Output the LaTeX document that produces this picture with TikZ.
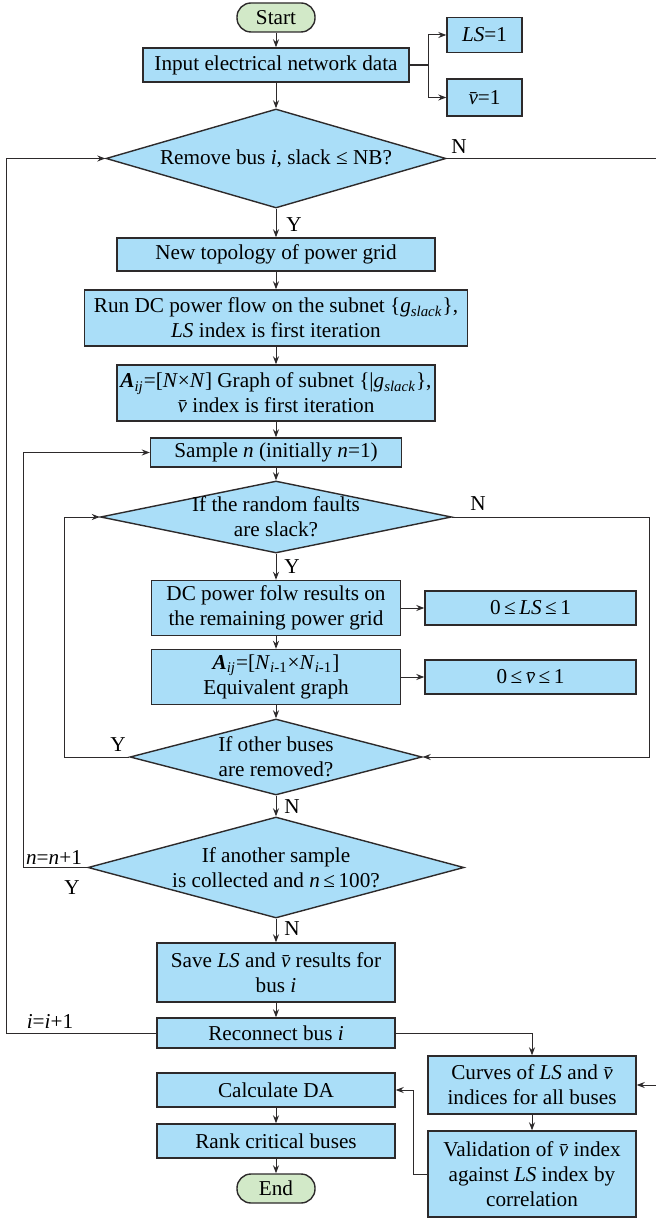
\documentclass[tikz,border=0pt]{standalone}
\usepackage{fontspec}
\setmainfont{Liberation Serif}
\usepackage{tikz}
\usetikzlibrary{arrows.meta, calc, shapes, positioning}

\definecolor{boxblue}{RGB}{170,222,248}
\definecolor{termgreen}{RGB}{210,233,200}
\definecolor{linegray}{RGB}{45,42,43}

\newcommand{\sbs}[1]{\textsubscript{\textit{#1}}}
\newcommand{\vbar}{\textit{\rlap{\=v}\phantom{v}}}

\tikzset{
	box/.style={draw=linegray, fill=boxblue, line width=0.7pt, inner sep=0pt, align=center},
	term/.style={box, fill=termgreen, rounded corners=7pt},
	dec/.style={box, diamond, inner ysep=-3pt},
	dims/.style 2 args={minimum width=#1*0.5pt, minimum height=#2*0.5pt},
	flow/.style={->, draw=linegray, line width=0.5pt},
}

\begin{document}
\begin{tikzpicture}[x=0.5pt, y=-0.5pt, >={Stealth[length=4pt, width=3pt]}, font=\fontsize{10.6}{12.5}\selectfont]
		\useasboundingbox (0,0) rectangle (655,1218);
		
		% Loop columns
		\coordinate (fork) at (428,65);
		\coordinate (redge) at (662,0);
		\coordinate (rloop) at (649,0);
		\coordinate (lloopI) at (6,0);
		\coordinate (lloopN) at (23,0);
		\coordinate (lloopB) at (64,0);
		\coordinate (back) at (413,0);
		
		% Main column
		\node[term, dims={78}{29}] (start) at (276,17.5) {Start};
		\node[box, dims={266}{34}] (input) at (276,65) {Input electrical network data};
		\node[box, dims={75}{35}] (ls1) at (484.5,35) {\textit{LS}=1};
		\node[box, dims={75}{37}] (v1) at (484.5,97.5) {\vbar=1};
		\node[dec, dims={340}{99}, aspect=3.43] (dec1) at (276,158.5) {Remove bus \textit{i}, slack ≤ NB?};
		\node[box, dims={318}{33}] (topo) at (276,254.5) {New topology of power grid};
		\node[box, dims={383}{56}] (rundc) at (276,318) {Run DC power flow on the subnet \{\textit{g}\sbs{slack}\},\\\textit{LS} index is first iteration};
		\node[box, dims={318}{56}] (aij) at (276,393) {\textbf{\textit{A}}\sbs{ij}=[\textit{N}×\textit{N}] Graph of subnet \{|\textit{g}\sbs{slack}\},\\\vbar{} index is first iteration};
		\node[box, dims={251}{29}] (sample) at (276,452.5) {Sample \textit{n} (initially \textit{n}=1)};
		\node[dec, dims={351}{72}, aspect=4.875] (dec2) at (276,517) {If the random faults\\are slack?};
		\node[box, dims={249}{55}] (dcres) at (276,608) {DC power folw results on\\the remaining power grid};
		\node[box, dims={211}{34}] (lsrng) at (530.5,608) {0\,≤\,\textit{LS}\,≤\,1};
		\node[box, dims={249}{55}] (aeq) at (276,677) {\textbf{\textit{A}}\sbs{ij}=[\textit{N}\textsubscript{\textit{i}-1}×\textit{N}\textsubscript{\textit{i}-1}]\\Equivalent graph};
		\node[box, dims={211}{34}] (vrng) at (530.5,677) {0\,≤\,\vbar\,≤\,1};
		\node[dec, dims={292}{76}, aspect=3.84] (dec3) at (276,757) {If other buses\\are removed?};
		\node[dec, dims={376}{101}, aspect=3.72] (dec4) at (276,867.5) {If another sample\\is collected and \textit{n}\,≤\,100?};
		\node[box, dims={238}{59}] (save) at (276,972.5) {Save \textit{LS} and \vbar{} results for\\bus \textit{i}};
		\node[box, dims={238}{30}] (recon) at (276,1033) {Reconnect bus \textit{i}};
		\node[box, dims={238}{34}] (calc) at (276,1090) {Calculate DA};
		\node[box, dims={238}{34}] (rank) at (276,1141) {Rank critical buses};
		\node[term, dims={78}{29}] (endn) at (276,1188.5) {End};
		
		% Right column
		\node[box, dims={208}{58}] (curves) at (532,1085) {Curves of \textit{LS} and \vbar\\indices for all buses};
		\node[box, dims={208}{86}] (valid) at (532,1174) {Validation of \vbar{} index\\against \textit{LS} index by\\correlation};
		
		% Branch labels
		\node (lN1) at (459,147) {N};
		\node (lY1) at (294,225) {Y};
		\node (lN2) at (478,504) {N};
		\node (lY2) at (292,567) {Y};
		\node (lY3) at (118,745) {Y};
		\node (lN3) at (292,807) {N};
		\node (lnn) at (54,857) {\textit{n}=\textit{n}+1};
		\node (lY4) at (72,888) {Y};
		\node (lN4) at (292,929) {N};
		\node (lii) at (50,1021) {\textit{i}=\textit{i}+1};
		
		% Straight flow
		\draw[flow] (start) -- (input);
		\draw[flow] (input) -- (dec1);
		\draw[flow] (dec1) -- (topo);
		\draw[flow] (topo) -- (rundc);
		\draw[flow] (rundc) -- (aij);
		\draw[flow] (aij) -- (sample);
		\draw[flow] (sample) -- (dec2);
		\draw[flow] (dec2) -- (dcres);
		\draw[flow] (dcres) -- (aeq);
		\draw[flow] (aeq) -- (dec3);
		\draw[flow] (dec3) -- (dec4);
		\draw[flow] (dec4) -- (save);
		\draw[flow] (save) -- (recon);
		\draw[flow] (calc) -- (rank);
		\draw[flow] (rank) -- (endn);
		\draw[flow] (curves) -- (valid);
		\draw[flow] (dcres) -- (lsrng);
		\draw[flow] (aeq) -- (vrng);
		
		% Initial values
		\draw[line width=0.7pt, draw=linegray] (input.east) -- (fork);
		\draw[flow] (fork) |- (ls1.west);
		\draw[flow] (fork) |- (v1.west);
		
		% Loops
		\draw[flow] (dec1.east) -- (dec1.east -| redge) |- (curves.east);
		\draw[flow] (dec2.east) -- (dec2.east -| rloop) |- (dec3.east);
		\draw[flow] (dec3.west) -- (dec3.west -| lloopB) |- (dec2.west);
		\draw[flow] (dec4.west) -- (dec4.west -| lloopN) |- (sample.west);
		\draw[flow] (recon.west) -- (recon.west -| lloopI) |- (dec1.west);
		\draw[flow] (recon.east) -| (curves.north);
		\draw[flow] (valid.west) -- (valid.west -| back) |- (calc.east);
	\end{tikzpicture}
\end{document}
